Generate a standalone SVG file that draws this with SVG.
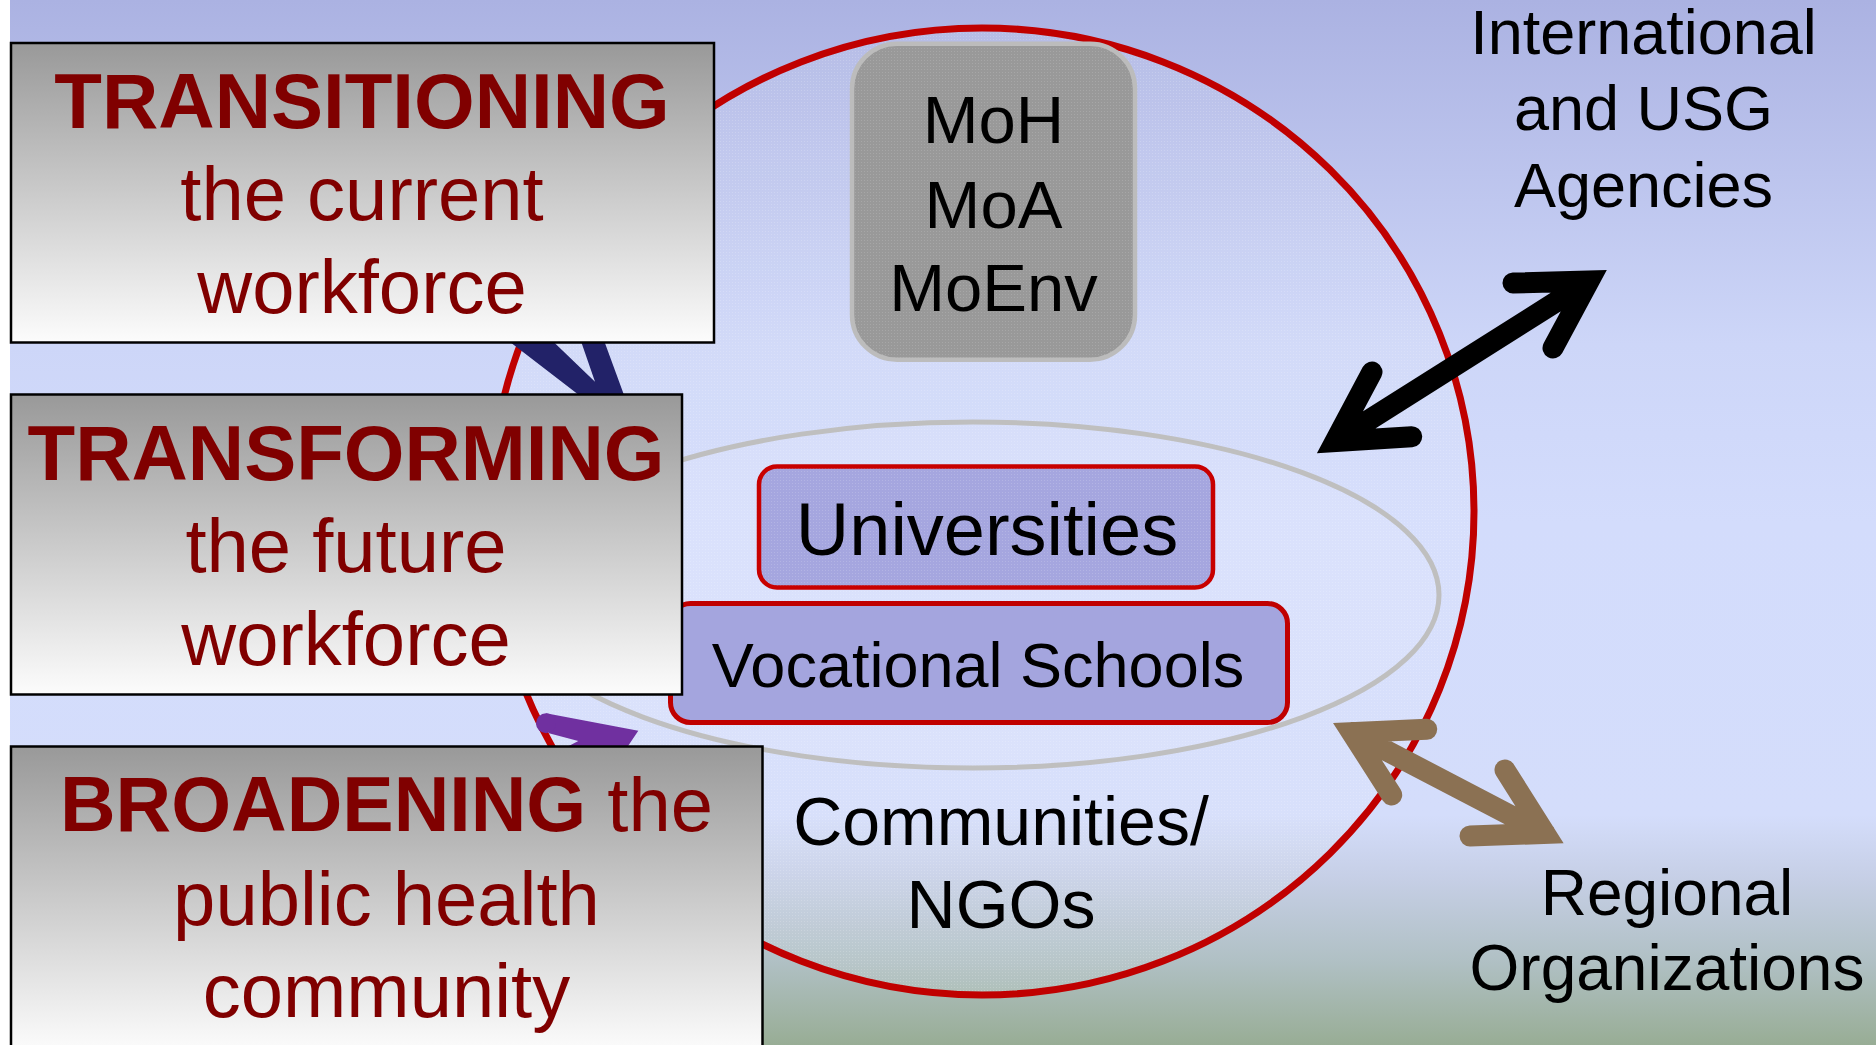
<svg xmlns="http://www.w3.org/2000/svg" width="1876" height="1045" viewBox="0 0 1876 1045">
  <defs>
    <linearGradient id="bg" gradientUnits="userSpaceOnUse" x1="0" y1="0" x2="0" y2="1045">
      <stop offset="0" stop-color="#abb2e2"/>
      <stop offset="0.33" stop-color="#cdd6f8"/>
      <stop offset="0.5" stop-color="#d3dcfc"/>
      <stop offset="0.78" stop-color="#d4ddfb"/>
      <stop offset="0.84" stop-color="#c6cfe6"/>
      <stop offset="0.92" stop-color="#b0c0c4"/>
      <stop offset="1" stop-color="#98ad95"/>
    </linearGradient>
    <linearGradient id="boxgrad" x1="0" y1="0" x2="0" y2="1">
      <stop offset="0" stop-color="#999999"/>
      <stop offset="1" stop-color="#fcfcfc"/>
    </linearGradient>
    <pattern id="dots" width="3" height="3" patternUnits="userSpaceOnUse">
      <rect width="1" height="1" fill="#ffffff" opacity="0.35"/>
    </pattern>
    <style>
      .box { fill: url(#boxgrad); stroke: #000; stroke-width: 2.5; }
      .red { fill: #800000; font-family: "Liberation Sans", Arial, sans-serif; text-anchor: middle; }
      .b { font-weight: bold; }
      .lbl { fill: #000; font-family: "Liberation Sans", Arial, sans-serif; text-anchor: middle; }
      .arrow { fill: none; stroke-width: 21; stroke-linejoin: miter; stroke-linecap: round; stroke-miterlimit: 6; }
    </style>
  </defs>

  <rect x="0" y="0" width="1876" height="1045" fill="#ffffff"/>
  <rect x="10" y="0" width="1866" height="1045" fill="url(#bg)"/>

  <g id="circle">
    <ellipse cx="982" cy="511.5" rx="492" ry="483.5" fill="#ffffff" fill-opacity="0.1"/>
    <ellipse cx="982" cy="511.5" rx="492" ry="483.5" fill="url(#dots)" opacity="0.5"/>
    <ellipse cx="982" cy="511.5" rx="492" ry="483.5" fill="none" stroke="#c00000" stroke-width="7"/>
  </g>

  <g id="education-ellipse">
    <ellipse cx="973" cy="595" rx="466" ry="173" fill="#ffffff" fill-opacity="0.08" stroke="#bfbfbf" stroke-width="5"/>
  </g>

  <g id="ministries">
    <rect x="852" y="43.7" width="283" height="316" rx="45" fill="#999999" stroke="#bcbcbc" stroke-width="4.5"/>
    <rect x="854" y="45.7" width="279" height="312" rx="43" fill="url(#dots)" opacity="0.4"/>
    <text class="lbl" font-size="67" x="993.5" y="143">MoH</text>
    <text class="lbl" font-size="67" x="993.5" y="228">MoA</text>
    <text class="lbl" font-size="67" x="993.5" y="311">MoEnv</text>
  </g>

  <g id="universities">
    <rect x="759" y="466.5" width="454" height="121" rx="18" fill="#a5a6df" stroke="#c80000" stroke-width="4.5"/>
    <rect x="761" y="468.5" width="450" height="117" rx="16" fill="url(#dots)" opacity="0.45"/>
    <text class="lbl" font-size="74" x="987" y="555">Universities</text>
  </g>

  <g id="vocational">
    <rect x="670.5" y="603.5" width="617" height="119" rx="20" fill="#a4a5de" stroke="#c00000" stroke-width="5"/>
    <text class="lbl" font-size="63" x="978" y="687">Vocational Schools</text>
  </g>

  <g id="communities">
    <text class="lbl" font-size="68" x="1001" y="845">Communities/</text>
    <text class="lbl" font-size="68" x="1001" y="928">NGOs</text>
  </g>

  <g id="international">
    <text class="lbl" font-size="63" x="1643.5" y="54">International</text>
    <text class="lbl" font-size="63" x="1643.5" y="130">and USG</text>
    <text class="lbl" font-size="63" x="1643.5" y="207">Agencies</text>
  </g>

  <g id="regional">
    <text class="lbl" font-size="64" x="1667" y="915">Regional</text>
    <text class="lbl" font-size="64" x="1667" y="990">Organizations</text>
  </g>

  <g id="connectors">
    <polygon fill="#222268" points="508.7,341 552.6,341 595,381.7 580.9,341 604.2,341 624,395 578.9,395"/>
    <polygon fill="#7030a0" points="546,713.3 638.3,730.7 626.7,748 565,748 578.3,741 549,733.3"/>
    <circle cx="546" cy="723.3" r="10" fill="#7030a0"/>
    <path class="arrow" stroke="#000000" d="M1513,283 L1589,281 L1553,348 M1589,281 L1335,441.5 M1372,372 L1335,441.5 L1411.7,436.7"/>
    <path class="arrow" stroke="#8b7153" d="M1426.7,729.3 L1351.7,732.6 L1391.7,795 M1351.7,732.6 L1545,833.4 M1505,770 L1545,833.4 L1470,836"/>
  </g>

  <g id="transitioning">
    <rect class="box" x="11" y="43" width="703" height="299.5"/>
    <text class="red b" font-size="78" x="362" y="128">TRANSITIONING</text>
    <text class="red" font-size="76" x="362" y="220">the current</text>
    <text class="red" font-size="76" x="362" y="313">workforce</text>
  </g>

  <g id="transforming">
    <rect class="box" x="11" y="394.5" width="671" height="300"/>
    <text class="red b" font-size="78" x="346" y="480">TRANSFORMING</text>
    <text class="red" font-size="76" x="346" y="572">the future</text>
    <text class="red" font-size="76" x="346" y="665">workforce</text>
  </g>

  <g id="broadening">
    <rect class="box" x="11" y="746.5" width="751.5" height="305"/>
    <text class="red" font-size="76" x="386.5" y="831"><tspan class="b" font-size="77">BROADENING</tspan> the</text>
    <text class="red" font-size="76" x="386.5" y="925">public health</text>
    <text class="red" font-size="76" x="386.5" y="1017">community</text>
  </g>
</svg>
